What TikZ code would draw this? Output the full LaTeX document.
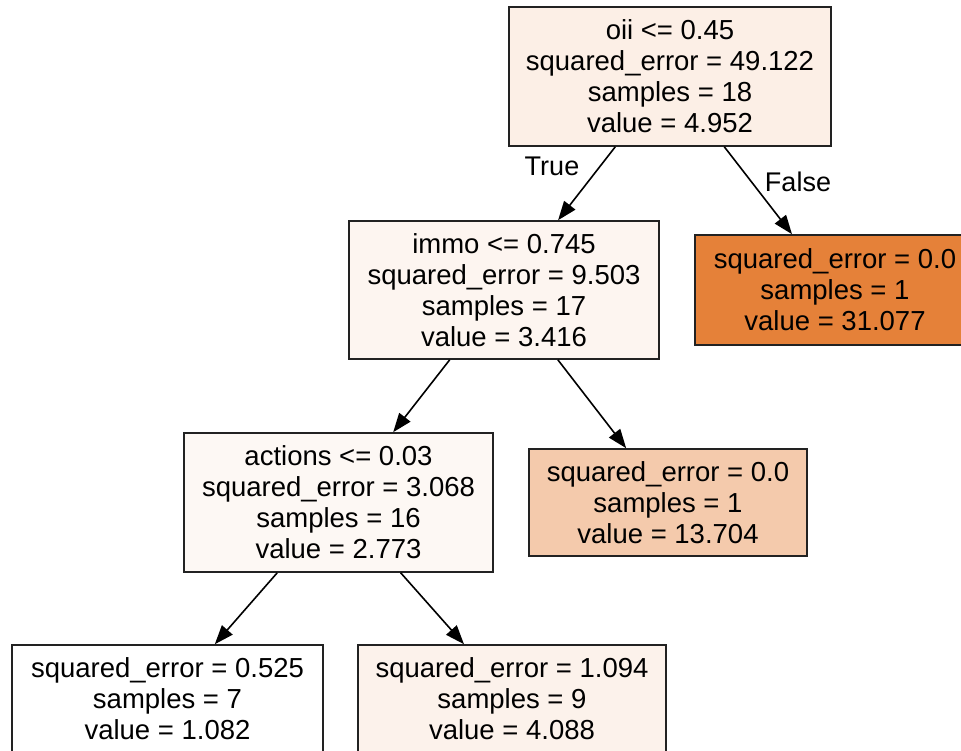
\documentclass[tikz,border=0pt]{standalone}
\usepackage{fontspec}
\setmainfont{Liberation Sans}
\usetikzlibrary{arrows.meta}
\definecolor{cRoot}{HTML}{FCEFE6}
\definecolor{cImmo}{HTML}{FDF5F0}
\definecolor{cOrange}{HTML}{E58139}
\definecolor{cActions}{HTML}{FDF8F4}
\definecolor{cMid}{HTML}{F4CAAC}
\definecolor{cLeafB}{HTML}{FCF2EB}
\definecolor{cBorder}{HTML}{222222}
\tikzset{
  treebox/.style={draw=cBorder, line width=1.6pt, rectangle, align=center, inner sep=0pt,
    font=\fontsize{27.5}{31}\selectfont},
  edge/.style={line width=1.6pt, -{Triangle[length=19pt,width=14pt]}},
  edgelabel/.style={font=\fontsize{27}{31}\selectfont, inner sep=0pt}
}
\begin{document}
\begin{tikzpicture}[x=1pt,y=-1pt]
\useasboundingbox[fill=white] (0,0) rectangle (961,751);
\node[treebox, fill=cRoot, minimum width=322pt, minimum height=139pt] (root) at (670,76.5)
  {oii <= 0.45\\squared\_error = 49.122\\samples = 18\\value = 4.952};
\node[treebox, fill=cImmo, minimum width=310pt, minimum height=138pt] (immo) at (504,290)
  {immo <= 0.745\\squared\_error = 9.503\\samples = 17\\value = 3.416};
\node[treebox, fill=cOrange, minimum width=280pt, minimum height=110pt] (orange) at (835,290)
  {squared\_error = 0.0\\samples = 1\\value = 31.077};
\node[treebox, fill=cActions, minimum width=309pt, minimum height=139pt] (actions) at (338.5,502.5)
  {actions <= 0.03\\squared\_error = 3.068\\samples = 16\\value = 2.773};
\node[treebox, fill=cMid, minimum width=278pt, minimum height=107pt] (mid) at (668,502.5)
  {squared\_error = 0.0\\samples = 1\\value = 13.704};
\node[treebox, fill=white, minimum width=311pt, minimum height=107pt] (leafa) at (167.5,698.5)
  {squared\_error = 0.525\\samples = 7\\value = 1.082};
\node[treebox, fill=cLeafB, minimum width=308pt, minimum height=107pt] (leafb) at (512,698.5)
  {squared\_error = 1.094\\samples = 9\\value = 4.088};
\draw[edge] (root) -- (immo);
\draw[edge] (root) -- (orange);
\draw[edge] (immo) -- (actions);
\draw[edge] (immo) -- (mid);
\draw[edge] (actions) -- (leafa);
\draw[edge] (actions) -- (leafb);
\node[edgelabel] (truelbl) at (552,166) {True};
\node[edgelabel] (falselbl) at (798,182) {False};
\end{tikzpicture}
\end{document}
